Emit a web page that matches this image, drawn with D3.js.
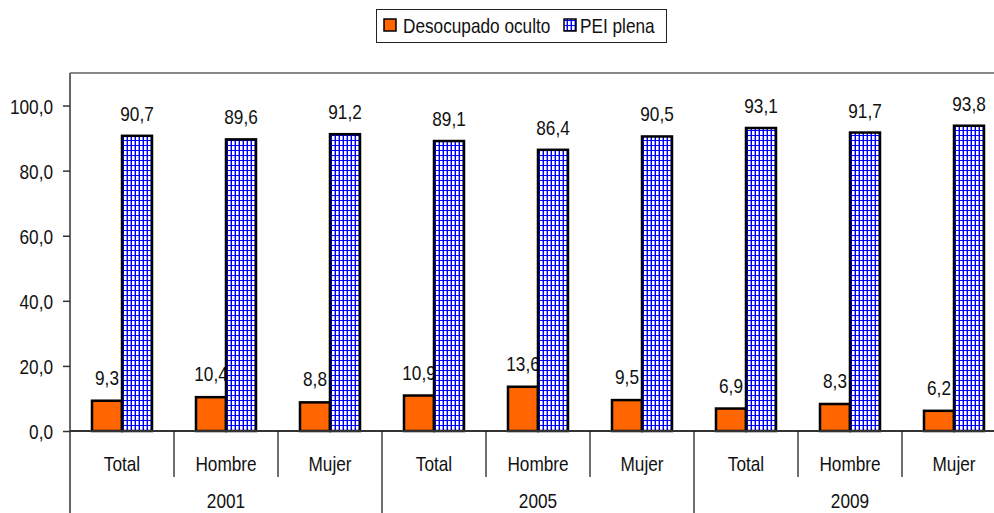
<!DOCTYPE html>
<html>
<head>
<meta charset="utf-8">
<script src="https://cdn.jsdelivr.net/npm/d3@7"></script>
<style>
  body { margin: 0; background: #fff; }
  svg { display: block; }
  text { font-family: "Liberation Sans", Arial, sans-serif; fill: #111; }
</style>
</head>
<body>
<script>
//Declare consts/global variables
    const width = 994;
    const height = 513;
    const margin = {left: 70, top: 73, bottom: 82};
    const fontSize = 21;
    const narrow = 0.82; // squeeze Liberation Sans to look like Arial Narrow

//Data
    const years = ["2001", "2005", "2009"];
    const groups = ["Total", "Hombre", "Mujer"];
    const seriesNames = ["Desocupado oculto", "PEI plena"];
    const desocupado = [9.3, 10.4, 8.8, 10.9, 13.6, 9.5, 6.9, 8.3, 6.2];
    const peiPlena = [90.7, 89.6, 91.2, 89.1, 86.4, 90.5, 93.1, 91.7, 93.8];
    const yTicks = [0, 20, 40, 60, 80, 100];

    const fmt = v => d3.format(".1f")(v).replace(".", ",");

    // one row per category (year x group)
    const cats = [];
    years.forEach(y => groups.forEach(g => cats.push({year: y, group: g, key: y + "-" + g})));
    cats.forEach((c, i) => { c.des = desocupado[i]; c.pei = peiPlena[i]; });

//Scales
    const bandW = 104;
    const xScale = d3.scaleBand()
        .domain(cats.map(d => d.key))
        .range([margin.left, margin.left + bandW * cats.length]);

    const yScale = d3.scaleLinear()
        .domain([0, 110])
        .range([height - margin.bottom, margin.top]);

    const barW = 30;

//SVG
    const svg = d3.select("body").append("svg")
        .attr("width", width)
        .attr("height", height);

    // narrow text helper
    function label(sel, x, y, txt, anchor) {
        return sel.append("text")
            .attr("transform", "translate(" + x + "," + y + ") scale(" + narrow + ",1)")
            .attr("text-anchor", anchor || "middle")
            .attr("font-size", fontSize)
            .text(txt);
    }

    // grid pattern for PEI plena
    const defs = svg.append("defs");
    const pat = defs.append("pattern")
        .attr("id", "grid")
        .attr("patternUnits", "userSpaceOnUse")
        .attr("width", 4)
        .attr("height", 5);
    pat.append("rect").attr("width", 4).attr("height", 5).attr("fill", "#fff");
    pat.append("rect").attr("x", 2).attr("width", 1).attr("height", 5).attr("fill", "#9090ff");
    pat.append("rect").attr("x", 3).attr("width", 1).attr("height", 5).attr("fill", "#0000ff");
    pat.append("rect").attr("y", 0).attr("width", 4).attr("height", 1).attr("fill", "#0000ff");

//Legend
    const legend = svg.append("g");
    legend.append("rect")
        .attr("x", 376.5).attr("y", 9.5)
        .attr("width", 290).attr("height", 33)
        .attr("fill", "#fff").attr("stroke", "#222").attr("stroke-width", 1);
    const legItems = [
        {name: seriesNames[0], fill: "#ff6600", x: 384, tx: 403},
        {name: seriesNames[1], fill: "url(#grid)", x: 564, tx: 580}
    ];
    legItems.forEach(l => {
        legend.append("rect")
            .attr("x", l.x).attr("y", 19)
            .attr("width", 12).attr("height", 12)
            .attr("fill", l.fill).attr("stroke", "#000").attr("stroke-width", 1.5);
        label(legend, l.tx, 33, l.name, "start");
    });

//Plot frame (top)
    svg.append("line")
        .attr("x1", margin.left).attr("x2", width)
        .attr("y1", margin.top).attr("y2", margin.top)
        .attr("stroke", "#888").attr("stroke-width", 2);

//Y axis
    const leftAxis = d3.axisLeft(yScale)
        .tickValues(yTicks)
        .tickSize(7)
        .tickFormat("");
    const gy = svg.append("g")
        .attr("transform", "translate(" + margin.left + ",0)")
        .call(leftAxis);
    gy.select(".domain").attr("stroke", "#666").attr("stroke-width", 2)
        .attr("d", "M0," + margin.top + "V" + height);
    gy.selectAll(".tick line").attr("stroke", "#333").attr("stroke-width", 1.5);
    gy.selectAll(".tick").each(function(d) {
        label(d3.select(this), -17, 7.5, fmt(d), "end");
    });

//Bars - Desocupado oculto
    svg.selectAll("rect.des")
        .data(cats)
        .enter()
        .append("rect")
        .attr("class", "des")
        .attr("x", d => xScale(d.key) + xScale.bandwidth() / 2 - barW)
        .attr("y", d => yScale(d.des))
        .attr("width", barW)
        .attr("height", d => yScale(0) - yScale(d.des))
        .attr("fill", "#ff6600")
        .attr("stroke", "#000")
        .attr("stroke-width", 2.5);

    // orange labels go under the blue bars (they are partly hidden in the original)
    const desLabels = svg.append("g");
    cats.forEach(d => {
        label(desLabels, xScale(d.key) + xScale.bandwidth() / 2 - barW / 2, yScale(d.des) - 16, fmt(d.des));
    });

//Bars - PEI plena
    svg.selectAll("rect.pei")
        .data(cats)
        .enter()
        .append("rect")
        .attr("class", "pei")
        .attr("x", d => xScale(d.key) + xScale.bandwidth() / 2)
        .attr("y", d => yScale(d.pei))
        .attr("width", barW)
        .attr("height", d => yScale(0) - yScale(d.pei))
        .attr("fill", "url(#grid)")
        .attr("stroke", "#000")
        .attr("stroke-width", 2.5);

    const peiLabels = svg.append("g");
    cats.forEach(d => {
        label(peiLabels, xScale(d.key) + xScale.bandwidth() / 2 + barW / 2, yScale(d.pei) - 15, fmt(d.pei));
    });

//X axis (multi-level category)
    const y0 = yScale(0);
    svg.append("line")
        .attr("x1", margin.left).attr("x2", width)
        .attr("y1", y0).attr("y2", y0)
        .attr("stroke", "#333").attr("stroke-width", 2);

    // separators between categories
    svg.selectAll("line.sep")
        .data(cats.slice(1))
        .enter()
        .append("line")
        .attr("class", "sep")
        .attr("x1", d => xScale(d.key)).attr("x2", d => xScale(d.key))
        .attr("y1", y0)
        .attr("y2", d => d.group === "Total" ? height : y0 + 46)
        .attr("stroke", "#111").attr("stroke-width", 1.2);

    const catLabels = svg.append("g");
    cats.forEach(d => {
        label(catLabels, xScale(d.key) + xScale.bandwidth() / 2, y0 + 40, d.group);
    });

    const yearLabels = svg.append("g");
    years.forEach(y => {
        label(yearLabels, xScale(y + "-Hombre") + xScale.bandwidth() / 2, y0 + 77, y);
    });
</script>
</body>
</html>
